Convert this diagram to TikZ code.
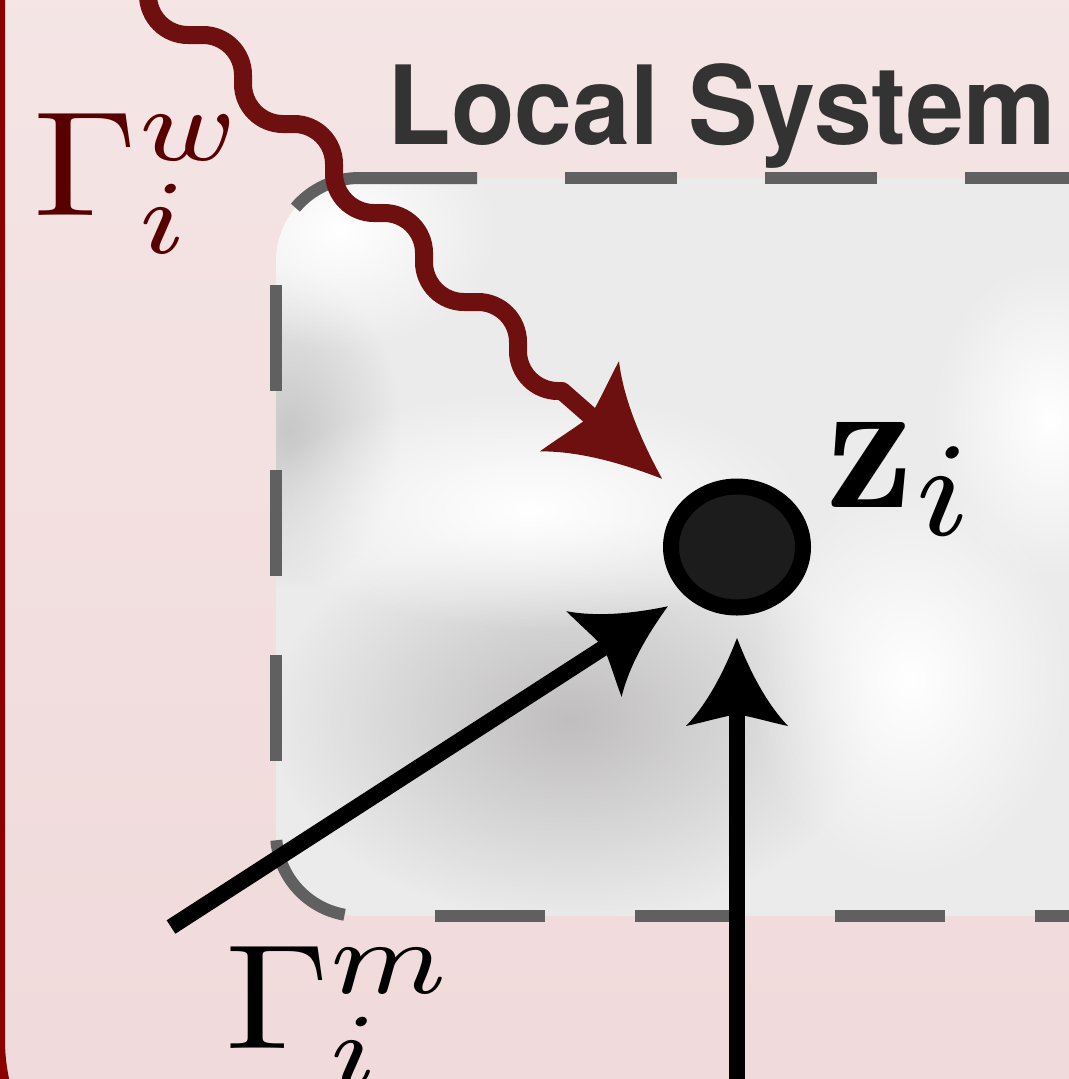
\documentclass[tikz,border=0pt]{standalone}
\usepackage{fontspec}
\usepackage{graphicx}
\newfontfamily\heros{TeX Gyre Heros}
\usetikzlibrary{arrows.meta,shapes.geometric,fadings}

\definecolor{pinktop}{RGB}{246,233,233}
\definecolor{pinkbot}{RGB}{240,216,217}
\definecolor{borderred}{RGB}{139,0,0}
\definecolor{wavered}{RGB}{110,16,16}
\definecolor{gammared}{RGB}{88,0,0}
\definecolor{boxgray}{RGB}{235,235,235}
\definecolor{boxdark}{RGB}{192,190,190}
\definecolor{boxmid}{RGB}{200,200,200}
\definecolor{dashgray}{RGB}{96,96,96}
\definecolor{textgray}{RGB}{51,51,51}
\definecolor{nodefill}{RGB}{28,28,28}

\tikzfading[name=softblob, inner color=transparent!0, outer color=transparent!100]

\pgfdeclarearrow{
  name = Curvy,
  parameters = {\the\pgfarrowlength,\the\pgfarrowwidth},
  setup code = {
    \pgfarrowssettipend{0pt}
    \pgfarrowssetlineend{-0.6\pgfarrowlength}
    \pgfarrowssetvisualbackend{-0.85\pgfarrowlength}
    \pgfarrowssetbackend{-\pgfarrowlength}
    \pgfarrowssavethe\pgfarrowlength
    \pgfarrowssavethe\pgfarrowwidth
  },
  drawing code = {
    \pgfpathmoveto{\pgfqpoint{0pt}{0pt}}
    \pgfpathcurveto
      {\pgfqpoint{-0.33\pgfarrowlength}{0.11\pgfarrowwidth}}
      {\pgfqpoint{-0.72\pgfarrowlength}{0.27\pgfarrowwidth}}
      {\pgfqpoint{-\pgfarrowlength}{0.5\pgfarrowwidth}}
    \pgfpathcurveto
      {\pgfqpoint{-0.95\pgfarrowlength}{0.3\pgfarrowwidth}}
      {\pgfqpoint{-0.88\pgfarrowlength}{0.1\pgfarrowwidth}}
      {\pgfqpoint{-0.87\pgfarrowlength}{0pt}}
    \pgfpathcurveto
      {\pgfqpoint{-0.88\pgfarrowlength}{-0.1\pgfarrowwidth}}
      {\pgfqpoint{-0.95\pgfarrowlength}{-0.3\pgfarrowwidth}}
      {\pgfqpoint{-\pgfarrowlength}{-0.5\pgfarrowwidth}}
    \pgfpathcurveto
      {\pgfqpoint{-0.72\pgfarrowlength}{-0.27\pgfarrowwidth}}
      {\pgfqpoint{-0.33\pgfarrowlength}{-0.11\pgfarrowwidth}}
      {\pgfqpoint{0pt}{0pt}}
    \pgfpathclose
    \pgfusepathqfill
  },
  defaults = {length = 10pt, width = 12pt}
}

\tikzset{
  dashline/.style={draw=dashgray, line width=0.12cm},
  blackarrow/.style={draw=black, line width=0.16cm, -{Curvy[length=0.88cm,width=1.02cm]}},
  waveline/.style={draw=wavered, line width=0.18cm, rounded corners=0.4cm},
  wavetip/.style={draw=wavered, line width=0.18cm, line cap=round, -{Curvy[length=1.1cm,width=1.2cm]}},
  lbl/.style={inner sep=0pt, anchor=base west},
  statenode/.style={ellipse, draw=black, fill=nodefill, line width=0.16cm,
    minimum width=1.32cm, minimum height=1.21cm, inner sep=0pt}
}

\begin{document}
\begin{tikzpicture}
\useasboundingbox (0,0) rectangle (10.69,-10.79);
\clip (0,0) rectangle (10.69,-10.79);

% outer (pink) region
\shade[rounded corners=1.9cm, top color=pinktop, bottom color=pinkbot] (0,4) rectangle (12,-12.3);
\draw[borderred, line width=0.1cm, rounded corners=1.9cm] (0,4) rectangle (12,-12.3);

% local system box
\fill[boxgray, rounded corners=0.83cm] (2.76,-1.78) rectangle (11.5,-9.16);
\begin{scope}
  \clip[rounded corners=0.83cm] (2.76,-1.78) rectangle (11.5,-9.16);
  \fill[boxdark, path fading=softblob] (5.7,-7.2) ellipse [x radius=3.0, y radius=2.0];
  \fill[boxmid, path fading=softblob] (2.9,-4.3) ellipse [x radius=1.1, y radius=1.6];
  \fill[white, path fading=softblob] (5.3,-5.1) ellipse [x radius=2.8, y radius=1.2];
  \fill[white, path fading=softblob] (3.4,-2.3) ellipse [x radius=1.6, y radius=1.2];
  \fill[white, path fading=softblob] (9.1,-6.8) ellipse [x radius=1.6, y radius=2.0];
  \fill[white, path fading=softblob] (10.5,-4.2) ellipse [x radius=1.2, y radius=1.6];
\end{scope}

% dashed border of the local system
\draw[dashline, dash pattern=on 1.12cm off 0.88cm] (5.65,-1.78) -- (11.2,-1.78);
\draw[dashline] (4.77,-1.78) -- (3.59,-1.78) arc[start angle=90, end angle=140, radius=0.83];
\draw[dashline, dash pattern=on 1.06cm off 0.79cm] (2.76,-2.85) -- (2.76,-7.65);
\draw[dashline] ([shift={(185:0.83)}]3.59,-8.33) arc[start angle=185, end angle=260, radius=0.83];
\draw[dashline, dash pattern=on 1.1cm off 0.9cm] (4.35,-9.16) -- (11.2,-9.16);

% title
\node[lbl, text=textgray] (title) at (3.87,-1.44) {\scalebox{1}[1.05]{\heros\bfseries\fontsize{29.6}{32}\selectfont Local System}};

% state node
\node[statenode] (z) at (7.37,-5.47) {};
\node[lbl] (zl) at (8.26,-5.07) {\scalebox{5.62}[5.45]{$\mathbf{z}_{i}$}};

% labels
\node[lbl, text=gammared] (gw) at (0.33,-2.15) {\scalebox{4.75}[4.25]{$\Gamma^{w}_{i}$}};
\node[lbl] (gm) at (2.245,-10.48) {\scalebox{4.75}[4.25]{$\Gamma^{m}_{i}$}};

% connectors
\coordinate (wstart) at (1.48,0.8);
\coordinate (wend) at (5.62,-3.91);
\coordinate (mstart) at (1.71,-9.27);
\coordinate (vstart) at (7.37,-11.3);

\draw[waveline] (wstart) -- (1.48,-0.35) -- (2.43,-0.35) -- (2.43,-1.24)
  -- (3.34,-1.24) -- (3.34,-2.13) -- (4.24,-2.13) -- (4.24,-3.02) -- (5.18,-3.02)
  -- (5.18,-3.91) -- (wend);
\draw[wavetip, shorten >=0.3cm] (wend) -- (z.north west);
\draw[blackarrow, shorten >=0.2cm] (mstart) -- (z.south west);
\draw[blackarrow, shorten >=0.225cm] (vstart) -- (z.south);
\end{tikzpicture}
\end{document}
